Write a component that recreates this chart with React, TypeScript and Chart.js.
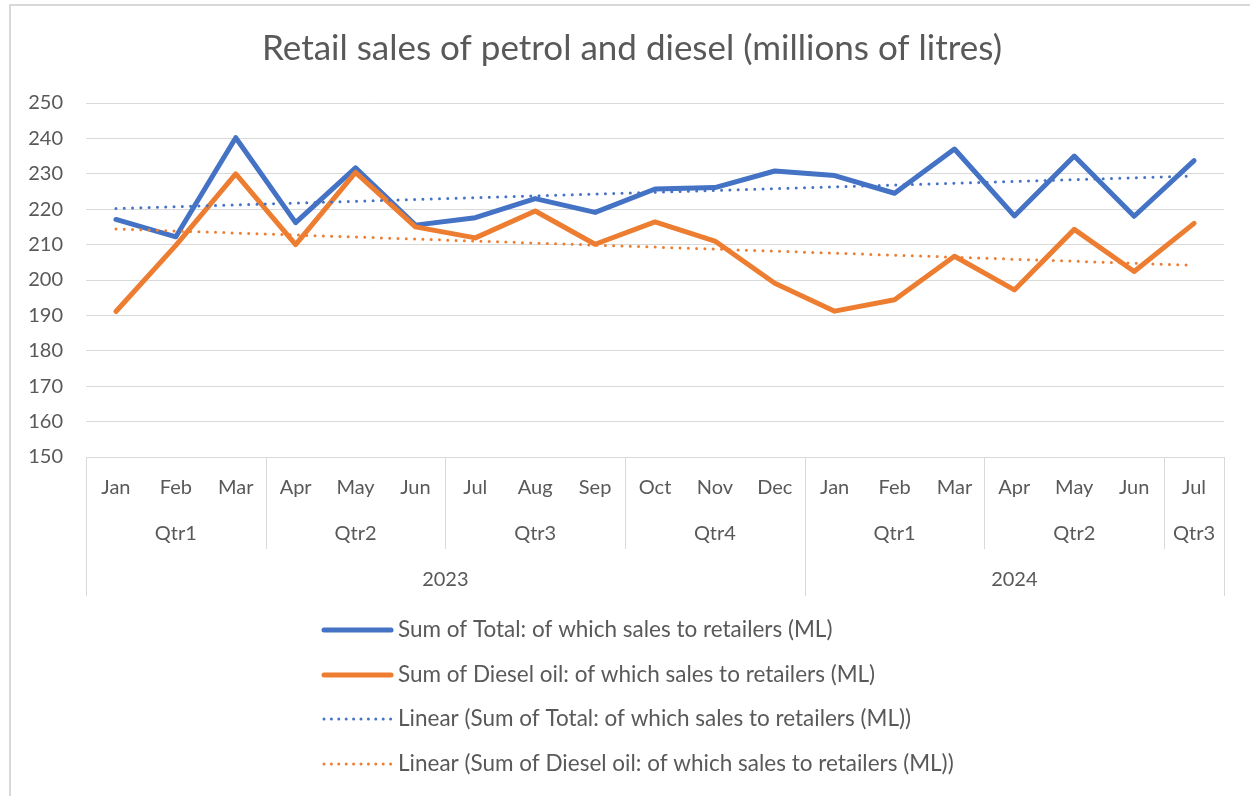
import React, { useEffect, useRef } from "react";
import { Chart, registerables } from "chart.js";

Chart.register(...registerables);

const chartTitle = "Retail sales of petrol and diesel (millions of litres)";
const months = ["Jan", "Feb", "Mar", "Apr", "May", "Jun", "Jul", "Aug", "Sep", "Oct", "Nov", "Dec", "Jan", "Feb", "Mar", "Apr", "May", "Jun", "Jul"];
const quarterLabels = ["Qtr1", "Qtr2", "Qtr3", "Qtr4", "Qtr1", "Qtr2", "Qtr3"];
const quarterSpans = [3, 3, 3, 3, 3, 3, 1];
const yearLabels = ["2023", "2024"];
const yearSpans = [12, 7];
const totalSales = [217.1, 212.2, 240.2, 216.2, 231.7, 215.5, 217.6, 223.0, 219.1, 225.7, 226.1, 230.8, 229.5, 224.5, 237.0, 218.1, 235.0, 218.0, 233.7];
const dieselSales = [191.1, 209.8, 230.0, 210.0, 230.4, 215.0, 211.9, 219.5, 210.1, 216.4, 211.0, 199.1, 191.2, 194.4, 206.7, 197.2, 214.3, 202.4, 216.0];
const seriesNames = [
  "Sum of Total: of which sales to retailers (ML)",
  "Sum of Diesel oil: of which sales to retailers (ML)",
  "Linear (Sum of Total: of which sales to retailers (ML))",
  "Linear (Sum of Diesel oil: of which sales to retailers (ML))",
];
const yMin = 150;
const yMax = 250;
const yStep = 10;

const BLUE = "#4472C4";
const ORANGE = "#ED7D31";
const GRID = "#d9d9d9";
const TEXT = "#595959";
const FONT = "Lato, 'Open Sans', sans-serif";

function linearTrend(values: number[]): number[] {
  const n = values.length;
  let sx = 0, sy = 0, sxy = 0, sxx = 0;
  values.forEach((v, i) => {
    const x = i + 1;
    sx += x; sy += v; sxy += x * v; sxx += x * x;
  });
  const slope = (n * sxy - sx * sy) / (n * sxx - sx * sx);
  const intercept = (sy - slope * sx) / n;
  return values.map((_, i) => intercept + slope * (i + 1));
}

const decorPlugin = {
  id: "decor",
  beforeDraw(chart: any) {
    const ctx = chart.ctx;
    ctx.save();
    ctx.fillStyle = "#ffffff";
    ctx.fillRect(0, 0, chart.width, chart.height);
    ctx.strokeStyle = GRID;
    ctx.lineWidth = 2;
    ctx.strokeRect(10, 5, chart.width + 20, chart.height + 20);
    ctx.restore();
  },
  afterDraw(chart: any) {
    const ctx = chart.ctx;
    const area = chart.chartArea;
    const n = months.length;
    const band = (area.right - area.left) / n;
    const B = area.bottom;
    const edge = (i: number) => Math.round(area.left + band * i) + 0.5;
    ctx.save();
    // title
    ctx.fillStyle = TEXT;
    ctx.font = `35px ${FONT}`;
    ctx.textAlign = "center";
    ctx.textBaseline = "middle";
    ctx.fillText(chartTitle, 632, 49);

    // category axis
    ctx.strokeStyle = GRID;
    ctx.lineWidth = 1;
    ctx.beginPath();
    ctx.moveTo(area.left, Math.round(B) + 0.5);
    ctx.lineTo(area.right, Math.round(B) + 0.5);
    ctx.stroke();
    const fullH = 139;
    const qH = 92;
    const yearEdges = new Set<number>();
    let acc = 0;
    yearEdges.add(0);
    yearSpans.forEach((s) => { acc += s; yearEdges.add(acc); });
    yearEdges.forEach((i) => {
      ctx.beginPath();
      ctx.moveTo(edge(i), B);
      ctx.lineTo(edge(i), B + fullH);
      ctx.stroke();
    });
    acc = 0;
    quarterSpans.forEach((s) => {
      acc += s;
      if (!yearEdges.has(acc)) {
        ctx.beginPath();
        ctx.moveTo(edge(acc), B);
        ctx.lineTo(edge(acc), B + qH);
        ctx.stroke();
      }
    });

    ctx.font = `20px ${FONT}`;
    ctx.fillStyle = TEXT;
    months.forEach((m, i) => {
      ctx.fillText(m, area.left + band * (i + 0.5), B + 31);
    });
    acc = 0;
    quarterLabels.forEach((q, k) => {
      const s = quarterSpans[k];
      ctx.fillText(q, area.left + band * (acc + s / 2), B + 77);
      acc += s;
    });
    acc = 0;
    yearLabels.forEach((y, k) => {
      const s = yearSpans[k];
      ctx.fillText(y, area.left + band * (acc + s / 2), B + 123);
      acc += s;
    });

    // legend
    const lx = 322;
    const rows = [630, 675, 719, 764];
    const styles = [
      { color: BLUE, dotted: false },
      { color: ORANGE, dotted: false },
      { color: BLUE, dotted: true },
      { color: ORANGE, dotted: true },
    ];
    ctx.textAlign = "left";
    ctx.font = `22.5px ${FONT}`;
    rows.forEach((ry, i) => {
      const st = styles[i];
      ctx.save();
      ctx.strokeStyle = st.color;
      ctx.lineCap = "round";
      if (st.dotted) {
        ctx.lineWidth = 3;
        ctx.setLineDash([0, 7.4]);
      } else {
        ctx.lineWidth = 5;
      }
      ctx.beginPath();
      ctx.moveTo(lx + 2, ry);
      ctx.lineTo(lx + 69, ry);
      ctx.stroke();
      ctx.restore();
      ctx.fillStyle = TEXT;
      ctx.fillText(seriesNames[i], lx + 76, ry);
    });
    ctx.restore();
  },
};

export default function App() {
  const ref = useRef<HTMLCanvasElement | null>(null);
  useEffect(() => {
    document.body.style.margin = "0";
    const canvas = ref.current!;
    const chart = new Chart(canvas, {
      type: "line",
      data: {
        labels: months.map((m, i) => `${m}-${i}`),
        datasets: [
          {
            label: seriesNames[0],
            data: totalSales,
            borderColor: BLUE,
            borderWidth: 5,
            pointRadius: 0,
            borderJoinStyle: "round",
            borderCapStyle: "round",
            tension: 0,
            order: 3,
          },
          {
            label: seriesNames[1],
            data: dieselSales,
            borderColor: ORANGE,
            borderWidth: 5,
            pointRadius: 0,
            borderJoinStyle: "round",
            borderCapStyle: "round",
            tension: 0,
            order: 2,
          },
          {
            label: seriesNames[2],
            data: linearTrend(totalSales),
            borderColor: BLUE,
            borderWidth: 3,
            borderDash: [0, 8.3],
            borderCapStyle: "round",
            pointRadius: 0,
            order: 1,
          },
          {
            label: seriesNames[3],
            data: linearTrend(dieselSales),
            borderColor: ORANGE,
            borderWidth: 3,
            borderDash: [0, 8.3],
            borderCapStyle: "round",
            pointRadius: 0,
            order: 0,
          },
        ],
      },
      options: {
        responsive: false,
        animation: false,
        devicePixelRatio: 1,
        events: [],
        layout: { padding: { top: 103, right: 26, bottom: 200, left: 0 } },
        plugins: {
          legend: { display: false },
          title: { display: false },
          tooltip: { enabled: false },
        },
        scales: {
          x: {
            type: "category",
            offset: true,
            grid: { display: false },
            border: { display: false },
            ticks: { display: false },
            afterFit: (s: any) => { s.height = 139; },
          },
          y: {
            min: yMin,
            max: yMax,
            ticks: {
              stepSize: yStep,
              color: TEXT,
              font: { family: FONT, size: 20 },
              padding: 23,
            },
            grid: { color: GRID, lineWidth: 1, drawTicks: false },
            border: { display: false },
            afterFit: (s: any) => { s.width = 86; },
          },
        },
      },
      plugins: [decorPlugin],
    });
    return () => chart.destroy();
  }, []);
  return (
    <div style={{ position: "fixed", left: 0, top: 0, width: 1250, height: 796, background: "#fff" }}>
      <canvas ref={ref} width={1250} height={796} style={{ display: "block", width: 1250, height: 796 }} />
    </div>
  );
}
